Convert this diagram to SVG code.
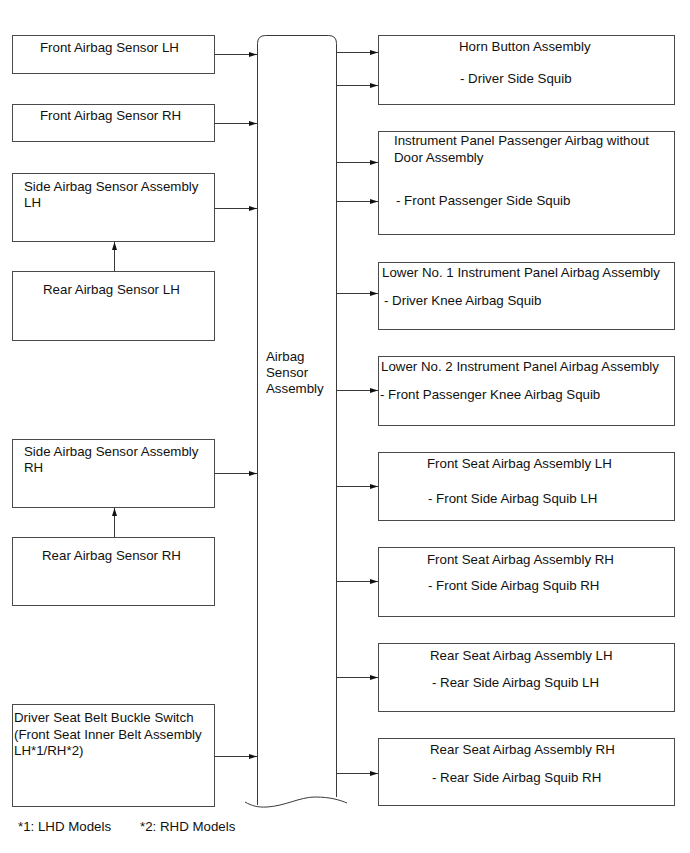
<svg xmlns="http://www.w3.org/2000/svg" width="690" height="853" viewBox="0 0 690 853">
<style>
.box{fill:#fff;stroke:#4a4a4a;stroke-width:1}
.t{font-family:"Liberation Sans",Arial,sans-serif;font-size:13.3px;fill:#111}
.c{fill:none;stroke:#3a3a3a;stroke-width:1}
.g{stroke:#9a9a9a}
</style>
<defs>
<marker id="ah" markerWidth="9" markerHeight="6" refX="8" refY="2.5" orient="auto" markerUnits="userSpaceOnUse">
<path d="M0,0 L8,2.5 L0,5 z" fill="#111"/>
</marker>
</defs>
<rect width="690" height="853" fill="#fff"/>

<g id="center">
<path class="c" d="M257.5,805 V43.5 Q257.5,35.5 265.5,35.5 H328.5 Q336.5,35.5 336.5,43.5 V797" />
<path class="c" d="M245,802 C252,806 258,807.5 267,807 C285,806 300,797 315,797 C330,797 340,800 347,803"/>
<text class="t" x="266" y="361">Airbag</text>
<text class="t" x="266" y="377">Sensor</text>
<text class="t" x="266" y="393">Assembly</text>
</g>

<g id="front-lh"><rect class="box" x="12.5" y="35.5" width="202" height="38"/><text class="t" x="40" y="52">Front Airbag Sensor LH</text></g>
<g id="front-rh"><rect class="box" x="12.5" y="104.5" width="202" height="37"/><text class="t" x="40" y="120">Front Airbag Sensor RH</text></g>
<g id="side-lh"><rect class="box" x="12.5" y="173.5" width="202" height="68"/><text class="t" x="24" y="191">Side Airbag Sensor Assembly</text><text class="t" x="24" y="207">LH</text></g>
<g id="rear-lh"><rect class="box" x="12.5" y="271.5" width="202" height="69"/><text class="t" x="43" y="294">Rear Airbag Sensor LH</text></g>
<g id="side-rh"><rect class="box" x="12.5" y="439.5" width="202" height="68"/><text class="t" x="24" y="456">Side Airbag Sensor Assembly</text><text class="t" x="24" y="472">RH</text></g>
<g id="rear-rh"><rect class="box" x="12.5" y="537.5" width="202" height="68"/><text class="t" x="42" y="560">Rear Airbag Sensor RH</text></g>
<g id="seatbelt"><rect class="box" x="12.5" y="704.5" width="202" height="102"/><text class="t" x="14" y="722">Driver Seat Belt Buckle Switch</text><text class="t" x="14" y="738.5">(Front Seat Inner Belt Assembly</text><text class="t" x="14" y="755">LH*1/RH*2)</text></g>

<g id="horn"><rect class="box" x="378.5" y="35.5" width="296" height="69"/><text class="t" x="459" y="51">Horn Button Assembly</text><text class="t" x="460" y="83">- Driver Side Squib</text></g>
<g id="ip-passenger"><rect class="box" x="378.5" y="131.5" width="296" height="103"/><text class="t" x="394" y="145">Instrument Panel Passenger Airbag without</text><text class="t" x="394" y="161.5">Door Assembly</text><text class="t" x="396" y="205">- Front Passenger Side Squib</text></g>
<g id="lower1"><rect class="box" x="378.5" y="262.5" width="296" height="67"/><text class="t" x="382" y="277">Lower No. 1 Instrument Panel Airbag Assembly</text><text class="t" x="384" y="305">- Driver Knee Airbag Squib</text></g>
<g id="lower2"><rect class="box" x="378.5" y="356.5" width="296" height="69"/><text class="t" x="381" y="371">Lower No. 2 Instrument Panel Airbag Assembly</text><text class="t" x="380" y="399">- Front Passenger Knee Airbag Squib</text></g>
<g id="front-seat-lh"><rect class="box" x="378.5" y="452.5" width="296" height="68"/><text class="t" x="427" y="468">Front Seat Airbag Assembly LH</text><text class="t" x="428" y="503">- Front Side Airbag Squib LH</text></g>
<g id="front-seat-rh"><rect class="box" x="378.5" y="547.5" width="296" height="69"/><text class="t" x="427" y="563.5">Front Seat Airbag Assembly RH</text><text class="t" x="428" y="590">- Front Side Airbag Squib RH</text></g>
<g id="rear-seat-lh"><rect class="box" x="378.5" y="643.5" width="296" height="68"/><text class="t" x="430" y="659.5">Rear Seat Airbag Assembly LH</text><text class="t" x="432" y="687">- Rear Side Airbag Squib LH</text></g>
<g id="rear-seat-rh"><rect class="box" x="378.5" y="738.5" width="296" height="67"/><text class="t" x="430" y="754">Rear Seat Airbag Assembly RH</text><text class="t" x="432" y="782">- Rear Side Airbag Squib RH</text></g>

<g id="notes"><text class="t" x="18" y="831">*1: LHD Models</text><text class="t" x="140" y="831">*2: RHD Models</text></g>

<g id="connectors" class="c" marker-end="url(#ah)">
<line x1="214.5" y1="54.5" x2="257" y2="54.5" marker-end="url(#ah)"/>
<line x1="214.5" y1="123.5" x2="257" y2="123.5" marker-end="url(#ah)"/>
<line x1="214.5" y1="208.5" x2="257" y2="208.5" marker-end="url(#ah)"/>
<line x1="214.5" y1="473.5" x2="257" y2="473.5" marker-end="url(#ah)"/>
<line x1="214.5" y1="756.5" x2="257" y2="756.5" marker-end="url(#ah)"/>
<line x1="114.5" y1="271" x2="114.5" y2="242" marker-end="url(#ah)"/>
<line x1="114.5" y1="537" x2="114.5" y2="508" marker-end="url(#ah)"/>
<line x1="337" y1="52.5" x2="378" y2="52.5" marker-end="url(#ah)"/>
<line x1="337" y1="85.5" x2="378" y2="85.5" marker-end="url(#ah)"/>
<line x1="337" y1="162.5" x2="378" y2="162.5" marker-end="url(#ah)"/>
<line x1="337" y1="201.5" x2="378" y2="201.5" marker-end="url(#ah)"/>
<line x1="337" y1="293.5" x2="378" y2="293.5" marker-end="url(#ah)"/>
<line x1="337" y1="390.5" x2="378" y2="390.5" marker-end="url(#ah)"/>
<line x1="337" y1="486.5" x2="378" y2="486.5" marker-end="url(#ah)"/>
<line x1="337" y1="581.5" x2="378" y2="581.5" marker-end="url(#ah)"/>
<line x1="337" y1="677.5" x2="378" y2="677.5" marker-end="url(#ah)"/>
<line x1="337" y1="773.5" x2="378" y2="773.5" marker-end="url(#ah)"/>
</g>
</svg>
